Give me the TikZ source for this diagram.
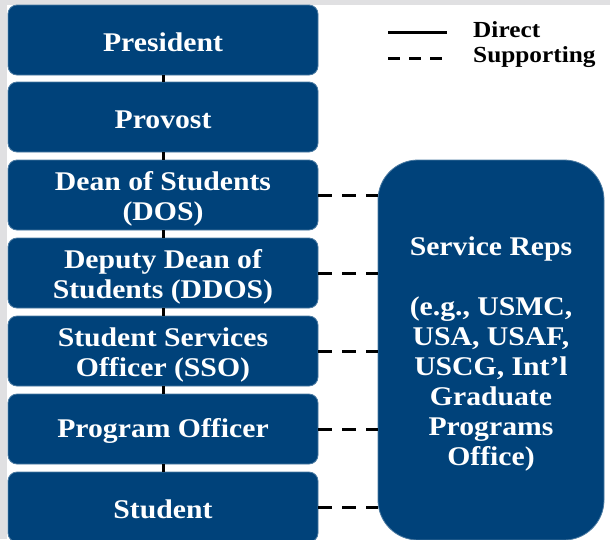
\documentclass[tikz,border=0pt]{standalone}
\usepackage{fontspec}
\setmainfont[FakeStretch=1.1]{Liberation Serif}
\definecolor{bleunps}{RGB}{0,66,122}
\definecolor{grisfond}{RGB}{224,224,226}

\begin{document}
\begin{tikzpicture}[x=1pt,y=-1pt]
\tikzset{boite/.style={draw=bleunps!70!white, line width=0.8pt, fill=bleunps, rounded corners=9pt, minimum width=310pt, minimum height=70pt, text=white, font=\fontsize{27}{30}\selectfont\bfseries, align=center, inner sep=0pt, execute at begin node={\rule{0pt}{23pt}}},
  legende/.style={font=\fontsize{23}{26}\selectfont\bfseries, anchor=west, inner sep=0pt},
  direct/.style={line width=3pt},
  soutien/.style={line width=3pt, dash pattern=on 14pt off 10pt}}
\useasboundingbox (0,0) rectangle (610,539);
\fill[grisfond] (0,0) rectangle (610,539);
\fill[white] (7,5) rectangle (610,539);
\node[boite] (P1) at (163,40) {President};
\node[boite] (P2) at (163,117) {Provost};
\node[boite] (P3) at (163,195) {\rule{0pt}{27pt}Dean of Students\\(DOS)};
\node[boite] (P4) at (163,273) {\rule{0pt}{27pt}Deputy Dean of\\Students (DDOS)};
\node[boite] (P5) at (163,351) {\rule{0pt}{27pt}Student Services\\Officer (SSO)};
\node[boite] (P6) at (163,429) {Program Officer};
\node[boite] (P7) at (163,507) {Student};
\node[boite, rounded corners=40pt, minimum width=226pt, minimum height=380pt] (SR) at (491,350) {\rule{0pt}{27pt}Service Reps\\[30pt](e.g., USMC,\\USA, USAF,\\USCG, Int'l\\Graduate\\Programs\\Office)};
\draw[direct] (P1) -- (P2);
\draw[direct] (P2) -- (P3);
\draw[direct] (P3) -- (P4);
\draw[direct] (P4) -- (P5);
\draw[direct] (P5) -- (P6);
\draw[direct] (P6) -- (P7);
\draw[soutien] (P3.east) -- (P3.east -| SR.west);
\draw[soutien] (P4.east) -- (P4.east -| SR.west);
\draw[soutien] (P5.east) -- (P5.east -| SR.west);
\draw[soutien] (P6.east) -- (P6.east -| SR.west);
\draw[soutien] (P7.east) -- (P7.east -| SR.west);
\node[legende] (L1) at (473,30) {Direct};
\node[legende] (L2) at (473,57) {Supporting};
\coordinate (D1) at (388,32);
\coordinate (D2) at (388,58);
\draw[direct] (D1) -- ++(59,0);
\draw[line width=3pt, dash pattern=on 12pt off 9pt] (D2) -- ++(59,0);
\end{tikzpicture}
\end{document}
